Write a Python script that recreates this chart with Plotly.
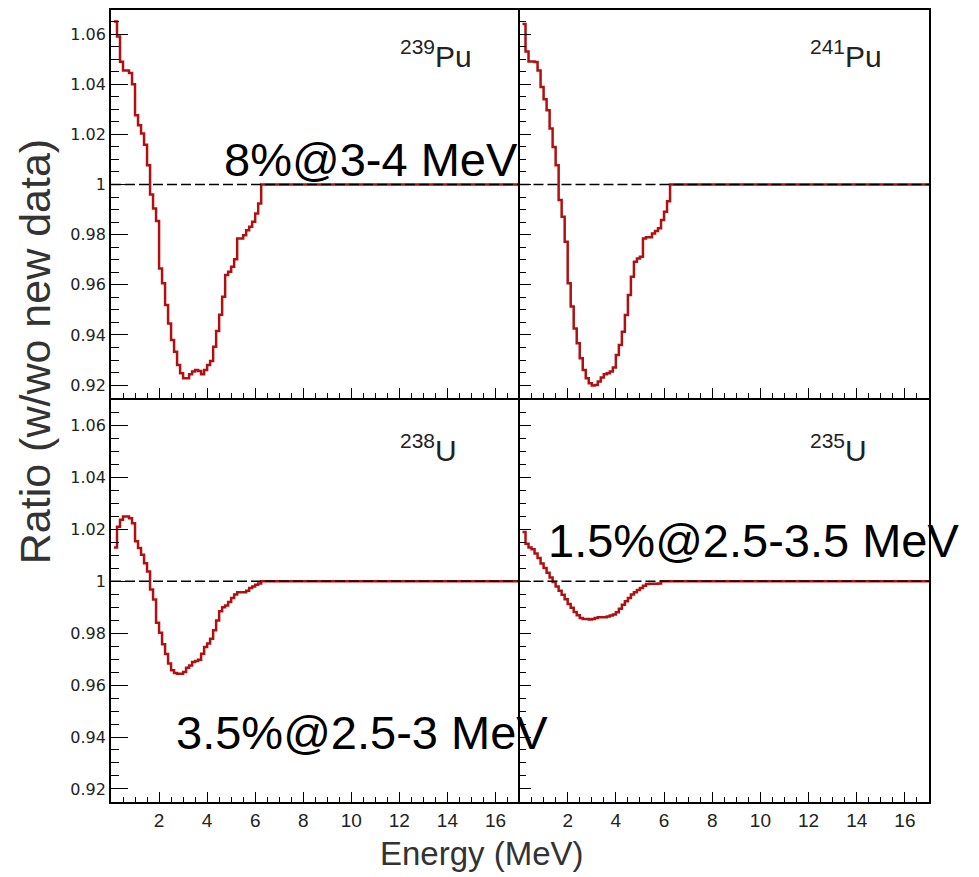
import plotly.graph_objects as go
from plotly.subplots import make_subplots

# ---------------- data ----------------
# lower edges of the 0.125 MeV bins (MeV)
ENERGY_EDGES = [0.125, 0.25, 0.375, 0.5, 0.625, 0.75, 0.875, 1.0, 1.125, 1.25,
                1.375, 1.5, 1.625, 1.75, 1.875, 2.0, 2.125, 2.25, 2.375, 2.5,
                2.625, 2.75, 2.875, 3.0, 3.125, 3.25, 3.375, 3.5, 3.625, 3.75,
                3.875, 4.0, 4.125, 4.25, 4.375, 4.5, 4.625, 4.75, 4.875, 5.0,
                5.125, 5.25, 5.375, 5.5, 5.625, 5.75, 5.875, 6.0, 6.125]
TAIL_START = 6.25   # ratio is 1 from here on
E_MAX = 17.0

PU239 = [1.065, 1.059, 1.049, 1.0455, 1.0455, 1.0445, 1.040, 1.0276, 1.0236, 1.0203,
         1.0159, 1.0077, 0.996, 0.9904, 0.9854, 0.9665, 0.9606, 0.9519, 0.9446, 0.938,
         0.9333, 0.928, 0.9247, 0.9227, 0.9227, 0.9243, 0.9254, 0.926, 0.9256, 0.9243,
         0.926, 0.928, 0.9296, 0.9353, 0.9416, 0.948, 0.9552, 0.9639, 0.9652, 0.9672,
         0.9702, 0.9785, 0.9785, 0.9798, 0.9818, 0.9831, 0.9851, 0.9884, 0.9924]
PU241 = [1.064, 1.053, 1.0491, 1.0491, 1.0489, 1.0455, 1.0389, 1.034, 1.0296, 1.0223,
         1.015, 1.0077, 0.9938, 0.9871, 0.9772, 0.9606, 0.9513, 0.9426, 0.9367, 0.9307,
         0.926, 0.9227, 0.9207, 0.9198, 0.92, 0.9214, 0.923, 0.9243, 0.9247, 0.9254,
         0.927, 0.932, 0.936, 0.9413, 0.9479, 0.9559, 0.9632, 0.9692, 0.9705, 0.9712,
         0.9785, 0.979, 0.979, 0.9805, 0.9815, 0.9825, 0.9858, 0.9891, 0.9933]
U238 = [1.013, 1.021, 1.0237, 1.025, 1.025, 1.0243, 1.0224, 1.0154, 1.0128, 1.0102,
        1.007, 1.0038, 0.9968, 0.993, 0.984, 0.9802, 0.9757, 0.972, 0.9683, 0.9657,
        0.9647, 0.9644, 0.9644, 0.9651, 0.9667, 0.9676, 0.9689, 0.9693, 0.9698, 0.9721,
        0.9747, 0.976, 0.9779, 0.9811, 0.9849, 0.9885, 0.99, 0.9907, 0.992, 0.9936,
        0.9949, 0.9958, 0.9958, 0.9958, 0.9964, 0.9974, 0.998, 0.9987, 0.9992]
U235 = [1.019, 1.0145, 1.013, 1.0124, 1.0107, 1.009, 1.0069, 1.0051, 1.0033, 1.0015,
        0.9997, 0.998, 0.9964, 0.9948, 0.9931, 0.9913, 0.9898, 0.9882, 0.9869, 0.9859,
        0.9855, 0.9855, 0.9853, 0.9855, 0.9859, 0.9862, 0.9862, 0.9862, 0.9864, 0.9868,
        0.9872, 0.9881, 0.9894, 0.991, 0.9923, 0.9936, 0.9949, 0.9958, 0.9967, 0.9974,
        0.9983, 0.999, 0.9991, 0.9991, 0.9991, 0.9992, 1.0, 1.0, 1.0]

PANELS = [  # (row, col, label, values)
    (1, 1, "<sup>239</sup>Pu", PU239),
    (1, 2, "<sup>241</sup>Pu", PU241),
    (2, 1, "<sup>238</sup>U", U238),
    (2, 2, "<sup>235</sup>U", U235),
]
Y_TICKS = [0.92, 0.94, 0.96, 0.98, 1.0, 1.02, 1.04, 1.06]
Y_TICK_TEXT = ["0.92", "0.94", "0.96", "0.98", "1", "1.02", "1.04", "1.06"]
X_TICKS = [2, 4, 6, 8, 10, 12, 14, 16]
X_TICK_TEXT = ["2", "4", "6", "8", "10", "12", "14", "16"]
Y_RANGE = {1: [0.9150, 1.0696], 2: [0.9150, 1.0708]}

# page body has an 8px margin: the figure is drawn 8px in from the window edge
OFF = 8
W, H = 979 - OFF, 877 - OFF
RED = "#b01010"

def px_x(p):
    return (p - OFF) / W

def px_y(p):
    return 1 - (p - OFF) / H

fig = make_subplots(rows=2, cols=2, horizontal_spacing=0, vertical_spacing=0)

for row, col, label, vals in PANELS:
    xs = ENERGY_EDGES + [TAIL_START, E_MAX]
    ys = vals + [1.0, 1.0]
    fig.add_trace(go.Scatter(x=xs, y=ys, mode="lines", line=dict(color=RED, width=2.5, shape="hv"),
                             showlegend=False, hoverinfo="skip"), row=row, col=col)
    fig.add_trace(go.Scatter(x=[0, E_MAX], y=[1.0, 1.0], mode="lines",
                             line=dict(color="black", width=1.6, dash="10px,4px"),
                             showlegend=False, hoverinfo="skip"), row=row, col=col)

# panel geometry (window pixels)
X_DOM = {1: (111.0, 519.5), 2: (519.5, 929.0)}
Y_DOM = {1: (8.0, 396.5), 2: (396.5, 801.7)}

tick_font = dict(family="DejaVu Sans", size=16, color="#222222")
xtick_font = dict(family="Liberation Sans", size=19, color="#222222")

for row in (1, 2):
    for col in (1, 2):
        x0, x1 = X_DOM[col]
        y0, y1 = Y_DOM[row]
        left = col == 1
        bottom = row == 2
        fig.update_xaxes(
            domain=[px_x(x0), px_x(x1)], range=[0, E_MAX],
            showline=True, linecolor="black", linewidth=1.8, mirror=not bottom,
            showgrid=False, zeroline=False,
            ticks="inside", ticklen=10, tickwidth=1.3, tickcolor="black",
            tickvals=X_TICKS + [0], ticktext=X_TICK_TEXT + [""],
            showticklabels=bottom, tickfont=xtick_font,
            minor=dict(ticks="inside", ticklen=5, tickwidth=1.3, tickcolor="black",
                       dtick=0.5, tick0=0, showgrid=False),
            row=row, col=col)
        fig.update_yaxes(
            domain=[max(0.0, px_y(y1)), min(1.0, px_y(y0))], range=Y_RANGE[row],
            showline=True, linecolor="black", linewidth=1.8, mirror=not left,
            showgrid=False, zeroline=False,
            ticks="inside", ticklen=17 if left else 12, tickwidth=1.3, tickcolor="black",
            tickvals=Y_TICKS, ticktext=Y_TICK_TEXT,
            showticklabels=left, tickfont=tick_font,
            minor=dict(ticks="inside", ticklen=8 if left else 7, tickwidth=1.3,
                       tickcolor="black", dtick=0.005, tick0=0.92, showgrid=False),
            row=row, col=col)

annotations = []
label_pos = {(1, 1): (398, 52), (1, 2): (808, 52), (2, 1): (398, 447), (2, 2): (808, 447)}
for row, col, label, vals in PANELS:
    lx, ly = label_pos[(row, col)]
    annotations.append(dict(text=label, x=px_x(lx), y=px_y(ly), xref="paper", yref="paper",
                            xanchor="left", yanchor="middle", showarrow=False,
                            font=dict(family="Liberation Sans", size=30, color="#222222")))

big_font = dict(family="Liberation Sans", size=47, color="black")
annotations += [
    dict(text="8%@3-4 MeV", x=px_x(222), y=px_y(158), xref="paper", yref="paper",
         xanchor="left", yanchor="middle", showarrow=False, font=big_font),
    dict(text="1.5%@2.5-3.5 MeV", x=px_x(546), y=px_y(540), xref="paper", yref="paper",
         xanchor="left", yanchor="middle", showarrow=False, font=big_font),
    dict(text="3.5%@2.5-3 MeV", x=px_x(174), y=px_y(732), xref="paper", yref="paper",
         xanchor="left", yanchor="middle", showarrow=False, font=big_font),
    dict(text="Ratio (w/wo new data)", x=px_x(35), y=px_y(351), xref="paper", yref="paper",
         xanchor="center", yanchor="middle", textangle=-90, showarrow=False,
         font=dict(family="Liberation Sans", size=43, color="#333333")),
    dict(text="Energy (MeV)", x=px_x(482), y=px_y(853), xref="paper", yref="paper",
         xanchor="center", yanchor="middle", showarrow=False,
         font=dict(family="Liberation Sans", size=33, color="#333333")),
]

fig.update_layout(width=W, height=H, margin=dict(l=0, r=0, t=0, b=0),
                  paper_bgcolor="white", plot_bgcolor="white",
                  annotations=annotations, showlegend=False)

fig.write_html("out.html")
